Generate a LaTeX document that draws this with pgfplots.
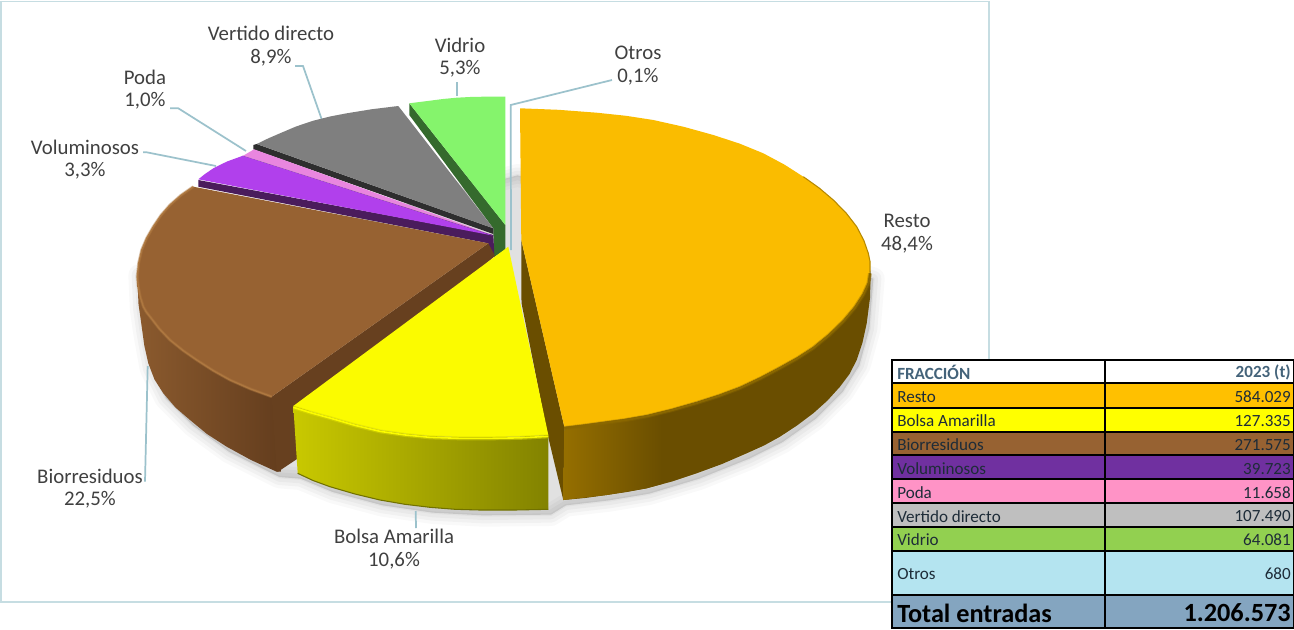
\documentclass[border=0pt]{standalone}
\usepackage{fontspec}
\setmainfont{Carlito}
\usepackage{pgfplots}
\usepackage{pgfplotstable}
\pgfplotsset{compat=1.18}

\definecolor{frame}{HTML}{C6DDE2}
\definecolor{leader}{HTML}{9CC2CC}
\definecolor{labeltext}{HTML}{404040}
\definecolor{restotop}{HTML}{FABC00}
\definecolor{restoside}{HTML}{6A4E00}
\definecolor{restoedge}{HTML}{8A6700}
\definecolor{amatop}{HTML}{FBFB00}
\definecolor{bioside}{HTML}{67401F}
\definecolor{biotop}{HTML}{976232}
\definecolor{bioedge}{HTML}{AE7840}
\definecolor{voltop}{HTML}{B140EC}
\definecolor{volside}{HTML}{4A1C5C}
\definecolor{podatop}{HTML}{E986DF}
\definecolor{vertop}{HTML}{7F7F7F}
\definecolor{verside}{HTML}{2E2E2E}
\definecolor{vidtop}{HTML}{85F46C}
\definecolor{vidside}{HTML}{356A2D}
\definecolor{hdrtext}{HTML}{44637A}
\definecolor{celltext}{HTML}{1E2C38}
\definecolor{cresto}{HTML}{FFC000}
\definecolor{cama}{HTML}{FFFF00}
\definecolor{cbio}{HTML}{976232}
\definecolor{cvol}{HTML}{7030A0}
\definecolor{cpoda}{HTML}{FF93C6}
\definecolor{cver}{HTML}{BFBFBF}
\definecolor{cvid}{HTML}{92D050}
\definecolor{cotros}{HTML}{B4E4F0}
\definecolor{ctotal}{HTML}{84A5C0}

\tikzset{
  lab/.style={font=\fontsize{15.6}{15.6}\selectfont,text=labeltext,anchor=center,inner sep=0pt},
  tbl/.style={font=\fontsize{12.8}{12.8}\selectfont,text=celltext,inner sep=0pt},
}

% lower silhouette of the pie, for the shadow
\pgfplotstableread{
x y
137 270
138.5 304
141.7 326.7
148.3 363.3
163.3 393.3
190 420
226.7 446.7
276.7 471.7
297.7 473.3
330 486.7
380 500
430 507.3
480 510
548.3 509.3
563.3 500
606.7 495
646.7 488.3
696.7 473.3
746.7 453.3
780 436.7
813.3 413.3
840 386.7
856.7 360
866.7 323.3
870.7 273.3
515 170
137 270
}\shadowtab

% front curves of the top faces
\pgfplotstableread{
x y
564.3 426.7
583.6 424.4
603.3 421.7
624.3 418.9
646.7 415
671.7 408.9
696.7 401.7
719 394.6
740 386.7
760.6 377
780 366.7
797.3 357.1
813.3 346.7
829.1 333.8
843.3 320
854.8 306.4
863.3 293.3
868.5 282
870 272
}\restofront
\pgfplotstableread{
x y
803.3 176.7
819.3 188.1
833.3 200
846.2 213.1
856.7 226.7
863.9 240.6
868.3 253.3
870 261.5
870 272
}\restorim
\pgfplotstableread{
x y
293.3 406
311 411.5
330 416.7
355 424
380 430
405 433.6
430 436
460 437
490 437
520 436.5
548.3 435
}\amafront
\pgfplotstableread{
x y
193.3 186.7
181 195.3
170 205
161 215.3
153.3 226.7
146.7 238.2
141.7 250
138.7 263
137.3 276.7
138.3 286.7
140.3 297
143.3 306.7
146.3 312
150 316.7
159.5 329
170 340
183 350.5
196.7 360
213 370.5
230 380
250.5 389
271.7 396.7
}\biofront

\newcommand{\cell}[5]{\addplot[draw=black,line width=1.5pt,fill=#5] coordinates {(#1,#3) (#2,#3) (#2,#4) (#1,#4)} --cycle;}

\begin{document}
\begin{tikzpicture}
\begin{axis}[
  scale only axis,
  width=970.5pt, height=471.75pt,
  xmin=0, xmax=1294, ymin=0, ymax=629,
  y dir=reverse,
  hide axis,
  no markers,
]
% page corners and chart frame
\addplot[draw=none,fill=white] coordinates {(0,0) (1294,0) (1294,629) (0,629)} --cycle;
\addplot[draw=frame,line width=1.2pt] coordinates {(1,1.5) (989,1.5) (989,602) (1,602)} --cycle;

% shadow
\addplot[fill=black,draw=black,line join=round,line width=17pt,opacity=0.025,yshift=-4pt,xshift=2pt] table {\shadowtab} --cycle;
\addplot[fill=black,draw=black,line join=round,line width=12pt,opacity=0.03,yshift=-4pt,xshift=2pt] table {\shadowtab} --cycle;
\addplot[fill=black,draw=black,line join=round,line width=7pt,opacity=0.03,yshift=-4pt,xshift=2pt] table {\shadowtab} --cycle;
\addplot[fill=black,draw=black,line join=round,line width=2pt,opacity=0.03,yshift=-4pt,xshift=2pt] table {\shadowtab} --cycle;

% leaders
\addplot[leader,line width=1.3pt] coordinates {(457,96) (457,82)};
\addplot[leader,line width=1.3pt] coordinates {(321.7,119.3) (303,66) (295,66)};
\addplot[leader,line width=1.3pt] coordinates {(246,151) (178.3,108.3) (170,108.3)};
\addplot[leader,line width=1.3pt] coordinates {(216,166) (146.7,152.3) (143,152.3)};
\addplot[leader,line width=1.3pt] coordinates {(147.7,366) (145,481.7)};
\addplot[leader,line width=1.3pt] coordinates {(415.7,511) (416,528)};
\addplot[leader,line width=1.3pt] coordinates {(511,250) (510.7,105) (612,80)};

% Vidrio
\addplot[draw=none,fill=vidside] coordinates {(409.3,103.3) (505.3,225) (505.3,250) (494,257) (493.3,228.3) (409.3,115)} --cycle;
\addplot[draw=none,fill=vidtop] coordinates {(409.3,103.3) (419.5,102) (430,100.7) (443,99) (456.7,97.7) (470,97) (483.3,96.7) (505.3,96.7) (505.3,225)} --cycle;

% Vertido directo
\addplot[draw=none,fill=verside] coordinates {(253.3,145) (256.7,144) (493.3,228.3) (493.3,234) (253.3,149.3)} --cycle;
\addplot[draw=none,fill=vertop] coordinates {(256.7,144) (268,138.5) (280,133.3) (296,126.5) (313.3,120.7) (330,116.5) (346.7,113.3) (372,109.2) (398.3,106) (493.3,228.3)} --cycle;

% Poda
\addplot[draw=none,fill=podatop] coordinates {(243.3,155.7) (254,149.3) (492.7,235)} --cycle;
\addplot[draw=volside!70!podatop,line width=0.6pt] coordinates {(242.5,156) (492.7,235.5)};

% Voluminosos
\addplot[draw=none,fill=volside] coordinates {(198.3,180) (493.3,235) (494.3,254) (488.3,258.3) (488.3,243.3) (198.3,186.7)} --cycle;
\addplot[draw=none,fill=voltop] coordinates {(198.3,179.3) (205,174) (213.3,168.3) (227,161.5) (242.7,155.8) (492.7,235.5)} --cycle;

% Biorresiduos
\addplot[draw=none,left color=biotop!92!black,right color=bioside!105!bioedge] coordinates {
  (137.3,276.7) (138.3,286.7) (140.3,297) (143.3,306.7) (146.3,312) (150,316.7) (159.5,329) (170,340) (183,350.5) (196.7,360) (213,370.5) (230,380) (250.5,389) (271.7,396.7) (276,398)
  (281,471.7) (276.7,471.7) (251,460) (226.7,446.7) (207,434) (190,420) (175.5,407.5) (163.3,393.3) (154.5,379.5) (148.3,363.3) (144.3,345.5) (141.7,326.7) (138.5,304)} --cycle;
\addplot[draw=none,fill=bioside] coordinates {(271.7,396.7) (488.3,243.3) (495,256) (300,420) (300,457) (278,471.7) (276.7,471.7)} --cycle;
\addplot[draw=none,fill=biotop] coordinates {
  (488.3,243.3) (193.3,186.7) (181,195.3) (170,205) (161,215.3) (153.3,226.7) (146.7,238.2) (141.7,250) (138.7,263) (137.3,276.7) (138.3,286.7) (140.3,297) (143.3,306.7) (146.3,312) (150,316.7) (159.5,329) (170,340) (183,350.5) (196.7,360) (213,370.5) (230,380) (250.5,389) (271.7,396.7)} --cycle;
\addplot[draw=bioedge,line width=2.2pt,opacity=0.45,line join=round] table {\biofront};
\addplot[draw=bioedge,line width=1pt,line join=round] table {\biofront};

% Resto
\addplot[draw=none,fill=restoside] coordinates {(521.3,240) (564.3,426.7) (563.3,500) (547,432) (521.5,303)} --cycle;
\addplot[draw=none,fill=restoside] coordinates {
  (564.3,426.7) (603.3,421.7) (646.7,415) (696.7,401.7) (740,386.7) (780,366.7) (813.3,346.7) (843.3,320) (863.3,293.3) (870,270)
  (870.7,273.3) (870,298) (866.7,323.3) (862.5,342.5) (856.7,360) (849.5,374) (840,386.7) (827.5,400.5) (813.3,413.3) (797,425.5) (780,436.7) (764,445.5) (746.7,453.3) (722,464) (696.7,473.3) (672,481.5) (646.7,488.3) (627,492) (606.7,495) (585,498) (563.3,500)} --cycle;
\addplot[draw=none,left color=restoside!70!restotop,right color=restoside] coordinates {
  (564.3,426.7) (603.3,421.7) (646.7,415) (662,411) (662,484) (646.7,488.3) (606.7,495) (563.3,500)} --cycle;
\addplot[draw=none,fill=restotop] coordinates {
  (520,108.3) (558.5,109.8) (596.7,112.7) (626,115.8) (653.3,120) (683.7,126.8) (713.3,135) (739.6,143.6) (763.3,153.3) (784.6,164.7) (803.3,176.7) (819.3,188.1) (833.3,200) (846.2,213.1) (856.7,226.7) (863.9,240.6) (868.3,253.3) (870,261.5) (870,270)
  (868.5,282) (863.3,293.3) (854.8,306.4) (843.3,320) (829.1,333.8) (813.3,346.7) (797.3,357.1) (780,366.7) (760.6,377) (740,386.7) (719,394.6) (696.7,401.7) (671.7,408.9) (646.7,415) (624.3,418.9) (603.3,421.7) (583.6,424.4) (564.3,426.7) (521.3,240)} --cycle;
\addplot[draw=restoedge,line width=3pt,opacity=0.4,line join=round,yshift=-1pt] table {\restofront};
\addplot[draw=restoedge,line width=1.5pt,line join=round,yshift=-1pt] table {\restofront};
\addplot[draw=restoedge!60!restotop,line width=0.8pt,line join=round] table {\restorim};

% Bolsa Amarilla
\addplot[draw=none,left color=amatop!80!black,right color=amatop!52!black] coordinates {
  (293.3,406) (311,411.5) (330,416.7) (355,424) (380,430) (405,433.6) (430,436) (460,437) (490,437) (520,436.5) (548.3,435)
  (548.3,509.3) (515,510) (480,510) (455,509.3) (430,507.3) (405,504.3) (380,500) (355,494) (330,486.7) (313,480.5) (297.7,473.3)} --cycle;
\addplot[draw=amatop!45!black,line width=0.8pt] coordinates {(297.7,473.3) (313,480.5) (330,486.7) (355,494) (380,500) (405,504.3) (430,507.3) (455,509.3) (480,510) (515,510) (548.3,509.3)};
\addplot[draw=none,fill=amatop] coordinates {
  (508.3,246.7) (293.3,406) (311,411.5) (330,416.7) (355,424) (380,430) (405,433.6) (430,436) (460,437) (490,437) (520,436.5) (548.3,435)} --cycle;
\addplot[draw=amatop!88!black,line width=3pt,opacity=0.5,line join=round,yshift=-1pt] table {\amafront};
\addplot[draw=amatop,line width=1.2pt,line join=round,yshift=-1pt] table {\amafront};

% labels
\node[lab] at (axis cs:271,33) {Vertido directo};
\node[lab] at (axis cs:271,58) {8,9\%};
\node[lab] at (axis cs:460,45) {Vidrio};
\node[lab] at (axis cs:460,69) {5,3\%};
\node[lab] at (axis cs:638,53) {Otros};
\node[lab] at (axis cs:638,77) {0,1\%};
\node[lab] at (axis cs:145,77) {Poda};
\node[lab] at (axis cs:145,101) {1,0\%};
\node[lab] at (axis cs:85,147) {Voluminosos};
\node[lab] at (axis cs:85,171) {3,3\%};
\node[lab] at (axis cs:907,221) {Resto};
\node[lab] at (axis cs:907,245) {48,4\%};
\node[lab] at (axis cs:90,476) {Biorresiduos};
\node[lab] at (axis cs:90,500) {22,5\%};
\node[lab] at (axis cs:394,536) {Bolsa Amarilla};
\node[lab] at (axis cs:394,561) {10,6\%};

% table
\cell{892.3}{1105}{360}{383.3}{white}
\cell{1105}{1293.5}{360}{383.3}{white}
\cell{892.3}{1105}{383.3}{407.7}{cresto}
\cell{1105}{1293.5}{383.3}{407.7}{cresto}
\cell{892.3}{1105}{407.7}{431.7}{cama}
\cell{1105}{1293.5}{407.7}{431.7}{cama}
\cell{892.3}{1105}{431.7}{455.3}{cbio}
\cell{1105}{1293.5}{431.7}{455.3}{cbio}
\cell{892.3}{1105}{455.3}{479.3}{cvol}
\cell{1105}{1293.5}{455.3}{479.3}{cvol}
\cell{892.3}{1105}{479.3}{503.3}{cpoda}
\cell{1105}{1293.5}{479.3}{503.3}{cpoda}
\cell{892.3}{1105}{503.3}{527}{cver}
\cell{1105}{1293.5}{503.3}{527}{cver}
\cell{892.3}{1105}{527}{551}{cvid}
\cell{1105}{1293.5}{527}{551}{cvid}
\cell{892.3}{1105}{551}{595}{cotros}
\cell{1105}{1293.5}{551}{595}{cotros}
\cell{892.3}{1105}{595}{627.5}{ctotal}
\cell{1105}{1293.5}{595}{627.5}{ctotal}

\node[tbl,anchor=west,text=hdrtext] at (axis cs:897,372) {\bfseries FRACCIÓN};
\node[tbl,anchor=east,text=hdrtext] at (axis cs:1291,372) {\bfseries 2023 (t)};
\node[tbl,anchor=west] at (axis cs:897,397) {Resto};
\node[tbl,anchor=east] at (axis cs:1291,397) {584.029};
\node[tbl,anchor=west] at (axis cs:897,421) {Bolsa Amarilla};
\node[tbl,anchor=east] at (axis cs:1291,421) {127.335};
\node[tbl,anchor=west] at (axis cs:897,445) {Biorresiduos};
\node[tbl,anchor=east] at (axis cs:1291,445) {271.575};
\node[tbl,anchor=west] at (axis cs:897,469) {Voluminosos};
\node[tbl,anchor=east] at (axis cs:1291,469) {39.723};
\node[tbl,anchor=west] at (axis cs:897,493) {Poda};
\node[tbl,anchor=east] at (axis cs:1291,493) {11.658};
\node[tbl,anchor=west] at (axis cs:897,516.5) {Vertido directo};
\node[tbl,anchor=east] at (axis cs:1291,516.5) {107.490};
\node[tbl,anchor=west] at (axis cs:897,540) {Vidrio};
\node[tbl,anchor=east] at (axis cs:1291,540) {64.081};
\node[tbl,anchor=west] at (axis cs:897,574) {Otros};
\node[tbl,anchor=east] at (axis cs:1291,574) {680};
\node[anchor=west,inner sep=0pt,text=black,font=\fontsize{19.7}{19.7}\selectfont\bfseries] at (axis cs:897,613) {Total entradas};
\node[anchor=east,inner sep=0pt,text=black,font=\fontsize{19.7}{19.7}\selectfont\bfseries] at (axis cs:1291,613) {1.206.573};
\end{axis}
\end{tikzpicture}
\end{document}
